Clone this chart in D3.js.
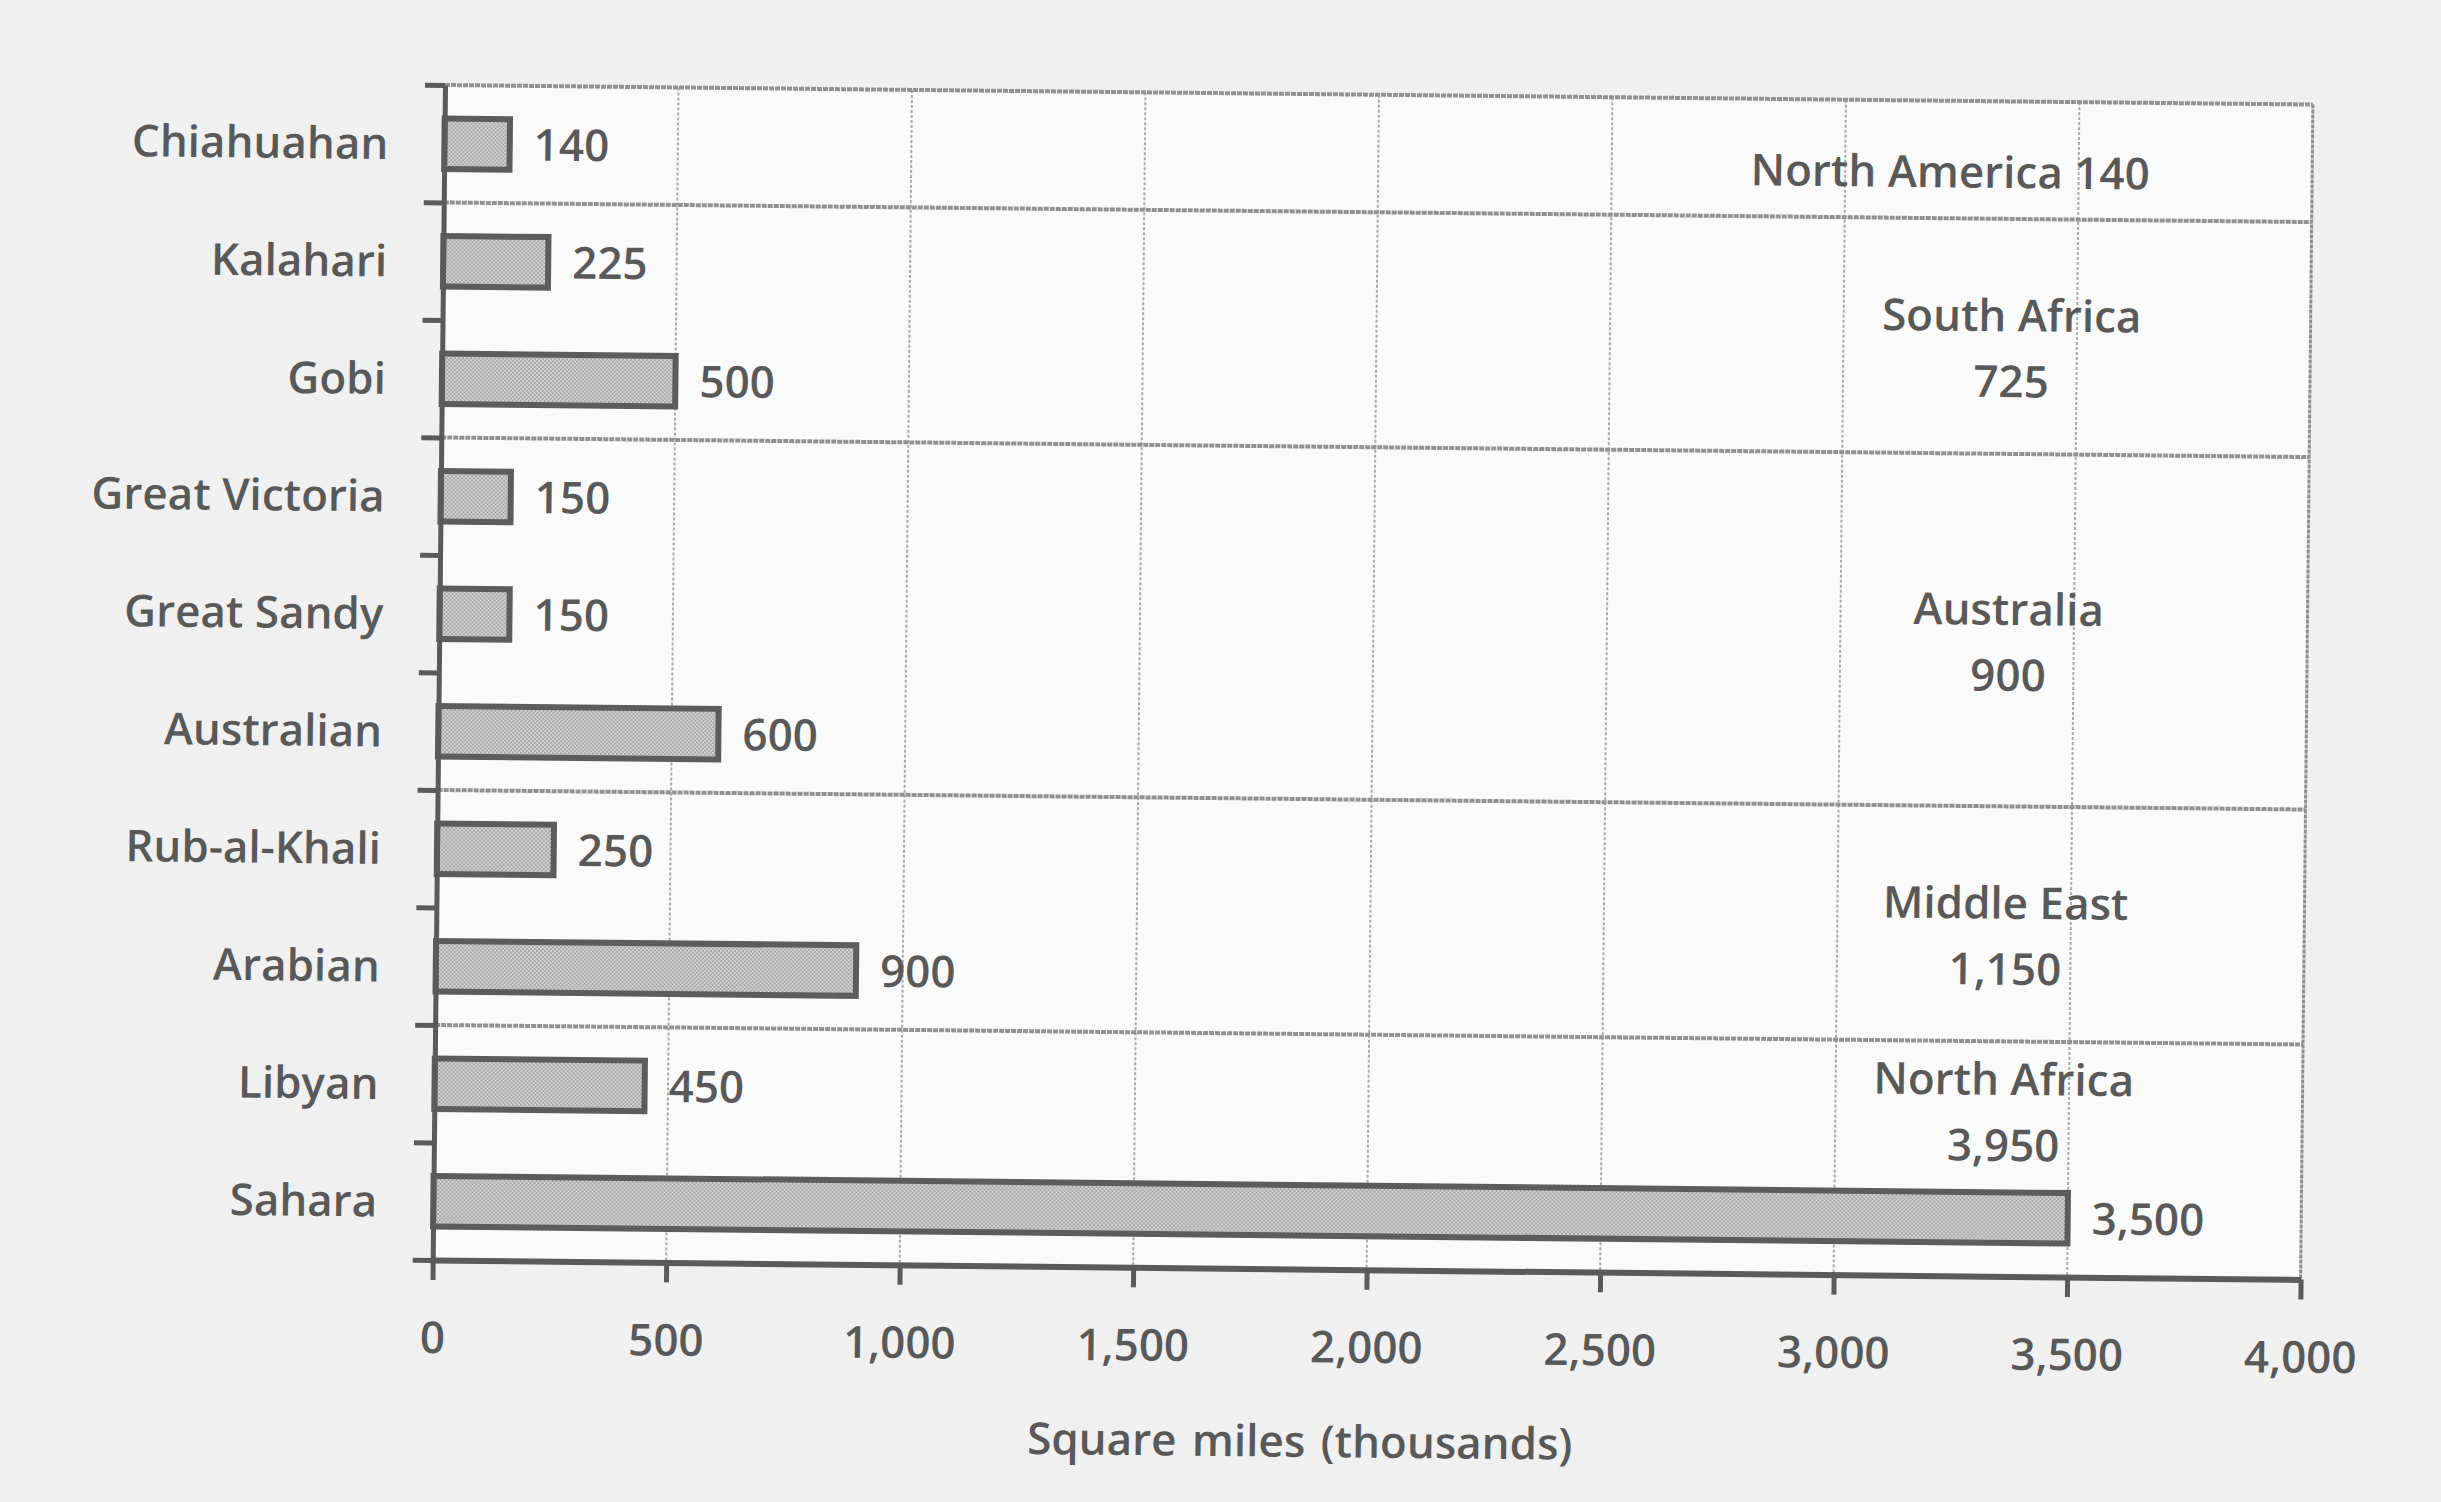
<!DOCTYPE html>
<html>
<head>
<meta charset="utf-8">
<script src="https://cdn.jsdelivr.net/npm/d3@7"></script>
<style>
  html, body { margin: 0; padding: 0; background: #f0f0f0; }
  svg { display: block; }
  text { font-family: "Open Sans", "Noto Sans", sans-serif; fill: #595959; font-weight: 600; }
</style>
</head>
<body>
<svg id="chart" width="2441" height="1502"></svg>
<script>
// ---- data ----
const categories = ["Chiahuahan", "Kalahari", "Gobi", "Great Victoria", "Great Sandy",
                    "Australian", "Rub-al-Khali", "Arabian", "Libyan", "Sahara"];
const values = [140, 225, 500, 150, 150, 600, 250, 900, 450, 3500];
const regions = ["North America", "South Africa", "Australia", "Middle East", "North Africa"];
const regionTotals = [140, 725, 900, 1150, 3950];
const regionSizes = [1, 2, 3, 2, 2];
const xTicks = [0, 500, 1000, 1500, 2000, 2500, 3000, 3500, 4000];
const xTitle = "Square miles  (thousands)";

// ---- layout ----
const svg = d3.select("#chart");
const w = 1868, h = 1175;
const ink = "#5a5a5a";
const fmt = d3.format(",");

const defs = svg.append("defs");
const pat = defs.append("pattern").attr("id", "dots")
  .attr("patternUnits", "userSpaceOnUse").attr("width", 4).attr("height", 4);
pat.append("rect").attr("width", 4).attr("height", 4).attr("fill", "#d2d2d2");
pat.append("rect").attr("width", 2).attr("height", 2).attr("fill", "#a8a8a8");
pat.append("rect").attr("x", 2).attr("y", 2).attr("width", 2).attr("height", 2).attr("fill", "#a8a8a8");

const g = svg.append("g").attr("transform", "translate(445,85) rotate(0.6)");

const x = d3.scaleLinear().domain([0, 4000]).range([0, w]);
const y = d3.scaleBand().domain(categories).range([0, h]).paddingInner(0.57).paddingOuter(0.285);
const idx = d3.scaleLinear().domain([0, categories.length]).range([0, h]);

// plot background
g.append("rect").attr("width", w).attr("height", h).attr("fill", "#fafafa");

// vertical grid lines
g.append("g").selectAll("line").data(xTicks.filter(d => d > 0 && d < 4000)).join("line")
  .attr("x1", d => x(d)).attr("x2", d => x(d)).attr("y1", 0).attr("y2", h)
  .attr("stroke", "#aaa").attr("stroke-width", 2).attr("stroke-dasharray", "3,2");

// right border
g.append("line").attr("x1", x(4000)).attr("x2", x(4000)).attr("y1", 0).attr("y2", h)
  .attr("stroke", "#8e8e8e").attr("stroke-width", 3).attr("stroke-dasharray", "4,1");

// group separators (top border included)
const bounds = [0];
regionSizes.forEach((s, i) => bounds.push(bounds[i] + s));
g.append("g").selectAll("line").data(bounds.slice(0, -1)).join("line")
  .attr("x1", 0).attr("x2", x(4000)).attr("y1", d => idx(d)).attr("y2", d => idx(d))
  .attr("stroke", "#929292").attr("stroke-width", 4).attr("stroke-dasharray", "5,1");

// bars
g.append("g").selectAll("rect").data(categories).join("rect")
  .attr("x", 0).attr("y", d => y(d))
  .attr("width", (d, i) => x(values[i])).attr("height", y.bandwidth())
  .attr("fill", "url(#dots)").attr("stroke", "#5c5c5c").attr("stroke-width", 6);

// value labels
g.append("g").selectAll("text").data(categories).join("text")
  .attr("x", (d, i) => x(values[i]) + 24).attr("y", d => y(d) + y.bandwidth() / 2)
  .attr("dy", "0.36em").attr("font-size", 44)
  .text((d, i) => fmt(values[i]));

// category labels
g.append("g").selectAll("text").data(categories).join("text")
  .attr("x", -56).attr("y", d => y(d) + y.bandwidth() / 2)
  .attr("dy", "0.36em").attr("text-anchor", "end").attr("font-size", 44)
  .text(d => d);

// left axis (ticks at band boundaries)
const leftAxis = g.append("g")
  .call(d3.axisLeft(idx).tickValues(d3.range(0, categories.length + 1)).tickSize(20).tickSizeOuter(0).tickFormat(""));
leftAxis.select(".domain").attr("stroke", ink).attr("stroke-width", 5);
leftAxis.selectAll(".tick line").attr("stroke", ink).attr("stroke-width", 5);

// bottom axis
const bottomAxis = g.append("g").attr("transform", `translate(0,${h})`)
  .call(d3.axisBottom(x).tickValues(xTicks).tickSize(20).tickSizeOuter(0).tickPadding(42).tickFormat(fmt));
bottomAxis.select(".domain").attr("stroke", ink).attr("stroke-width", 6);
bottomAxis.selectAll(".tick line").attr("stroke", ink).attr("stroke-width", 5);
bottomAxis.selectAll(".tick text").attr("font-size", 44).attr("fill", "#595959")
  .attr("font-family", "'Open Sans', 'Noto Sans', sans-serif").attr("font-weight", 600);

// region labels
regions.forEach((r, i) => {
  const start = bounds[i], end = bounds[i + 1];
  // bands of this group whose bars do not reach the label column
  const free = d3.range(start, end).filter(k => values[k] < 3000);
  const lo = d3.min(free), hi = d3.max(free) + 1;
  const cy = idx((lo + hi) / 2) + 12;
  const single = regionSizes[i] === 1;
  const cx = single ? x(3225) : x(3360);
  if (single) {
    g.append("text").attr("x", cx).attr("y", cy).attr("dy", "0.36em")
      .attr("text-anchor", "middle").attr("font-size", 44)
      .text(`${r}  ${fmt(regionTotals[i])}`);
  } else {
    g.append("text").attr("x", cx).attr("y", cy - 33).attr("dy", "0.36em")
      .attr("text-anchor", "middle").attr("font-size", 44).text(r);
    g.append("text").attr("x", cx).attr("y", cy + 33).attr("dy", "0.36em")
      .attr("text-anchor", "middle").attr("font-size", 44).text(fmt(regionTotals[i]));
  }
});

// x axis title
g.append("text").attr("x", w / 2 - 65).attr("y", h + 172).attr("dy", "0.36em")
  .attr("text-anchor", "middle").attr("font-size", 44).attr("word-spacing", 4)
  .text(xTitle);
</script>
</body>
</html>
